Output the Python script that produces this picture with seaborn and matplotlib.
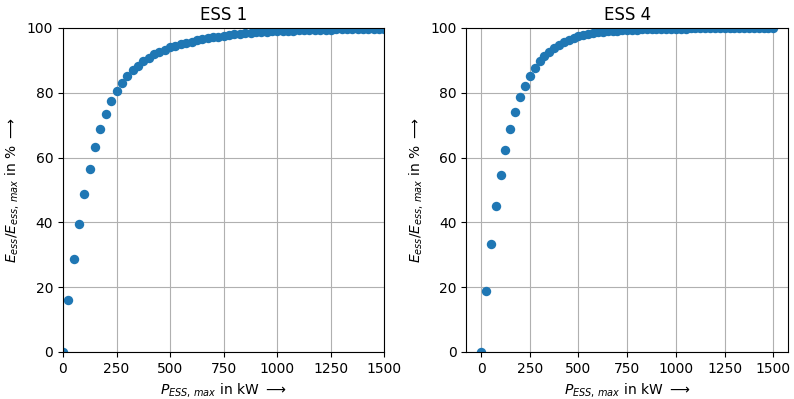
import numpy as np
import pandas as pd
import matplotlib
matplotlib.use("Agg")
import matplotlib.pyplot as plt
import seaborn as sns

# Maximum power steps in kW (0 ... 1500 in 25 kW steps)
p_max = list(range(0, 1525, 25))

# Usable energy share in % for ESS 1
ess1 = [0.0, 16.0, 28.7, 39.5, 48.8, 56.5, 63.2, 68.8, 73.5, 77.4,
        80.5, 83.0, 85.2, 86.9, 88.4, 89.7, 90.8, 91.8, 92.6, 93.3,
        94.0, 94.5, 95.0, 95.4, 95.8, 96.2, 96.5, 96.8, 97.1, 97.3,
        97.6, 97.8, 98.0, 98.2, 98.3, 98.5, 98.6, 98.7, 98.8, 98.9,
        99.0, 99.1, 99.1, 99.2, 99.3, 99.3, 99.4, 99.4, 99.5, 99.5,
        99.5, 99.6, 99.6, 99.6, 99.7, 99.7, 99.7, 99.7, 99.8, 99.8,
        99.8]

# Usable energy share in % for ESS 4
ess4 = [0.0, 18.8, 33.3, 45.1, 54.5, 62.3, 68.8, 74.2, 78.6, 82.1,
        85.1, 87.5, 89.7, 91.3, 92.6, 93.8, 94.8, 95.6, 96.3, 96.9,
        97.4, 97.8, 98.1, 98.4, 98.6, 98.8, 99.0, 99.1, 99.2, 99.3,
        99.4, 99.5, 99.5, 99.6, 99.6, 99.7, 99.7, 99.7, 99.8, 99.8,
        99.8, 99.8, 99.8, 99.9, 99.9, 99.9, 99.9, 99.9, 99.9, 99.9,
        99.9, 99.9, 99.9, 99.9, 99.9, 99.9, 99.9, 99.9, 99.9, 99.9,
        99.9]

titles = ["ESS 1", "ESS 4"]

sns.set_style("ticks")
plt.rcParams["font.family"] = ["DejaVu Sans"]
plt.rcParams["mathtext.fontset"] = "dejavusans"
for key in ("text.color", "axes.labelcolor", "xtick.color", "ytick.color"):
    plt.rcParams[key] = "black"

fig, axes = plt.subplots(1, 2, figsize=(7.94, 3.99), dpi=100)
fig.subplots_adjust(left=0.0793, right=0.9924, top=0.93, bottom=0.118, wspace=0.255)

for ax, vals, title in zip(axes, [ess1, ess4], titles):
    df = pd.DataFrame({"p": p_max, "e": vals})
    ax.grid(True, color="#b0b0b0", linewidth=0.8)
    ax.set_axisbelow(True)
    sns.scatterplot(data=df, x="p", y="e", ax=ax, color="#1f77b4",
                    s=46, linewidth=0)
    ax.set_ylim(0, 100)
    ax.set_yticks([0, 20, 40, 60, 80, 100])
    ax.set_xticks([0, 250, 500, 750, 1000, 1250, 1500])
    ax.set_title(title, fontsize=12)
    ax.set_xlabel(r"$P_{ESS,\,max}$ in kW $\longrightarrow$", fontsize=10)
    ax.set_ylabel(r"$E_{ess}/E_{ess,\,max}$ in % $\longrightarrow$", fontsize=10)
    ax.tick_params(labelsize=10, colors="black")
    for sp in ax.spines.values():
        sp.set_visible(True)
        sp.set_color("black")
        sp.set_linewidth(0.8)

axes[0].set_xlim(0, 1500)
axes[1].set_xlim(-75, 1575)

fig.savefig("out.png", dpi=100)
